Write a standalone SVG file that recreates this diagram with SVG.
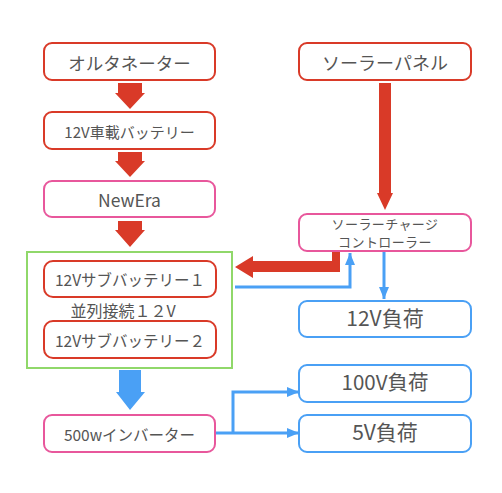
<svg xmlns="http://www.w3.org/2000/svg" width="502" height="493" viewBox="0 0 502 493">
  <defs>
    <style>
      .box { fill: #fff; stroke-width: 2; }
      .red { stroke: #d93a28; }
      .pink { stroke: #e8579c; }
      .blue { stroke: #4aa0f5; }
      .grp { fill: none; stroke: #90d86a; stroke-width: 2; }
      text { font-family: "Noto Sans CJK JP", "Noto Sans", sans-serif; fill: #555; text-anchor: middle; dominant-baseline: central; }
      .bigarrow-r { fill: #d93a28; }
      .bigarrow-b { fill: #4aa0f5; }
      .line-b { fill: none; stroke: #4aa0f5; stroke-width: 3; }
    </style>
    <marker id="ah" viewBox="0 0 12 10" refX="12" refY="5" markerWidth="12" markerHeight="10" markerUnits="userSpaceOnUse" orient="auto">
      <path d="M0,0 L12,5 L0,10 z" fill="#4aa0f5"/>
    </marker>
  </defs>

  <g id="group-parallel">
    <rect class="grp" x="27" y="252" width="205" height="116"/>
    <text x="123" y="310" font-size="16">並列接続１２V</text>
  </g>

  <g id="connectors">
    <polygon class="bigarrow-r" points="118,83 142,83 142,93 145,93 130,109 115,93 118,93"/>
    <polygon class="bigarrow-r" points="118,152 142,152 142,161 145,161 130,177 115,161 118,161"/>
    <polygon class="bigarrow-r" points="118,221 142,221 142,230 145,230 130,247 115,230 118,230"/>
    <polygon class="bigarrow-r" points="379,83 391,83 391,193 393,193 385,210 377,193 379,193"/>
    <polygon class="bigarrow-r" points="332,252 340,252 340,272 253,272 253,278 235,267 253,256 253,261 332,261"/>
    <polyline class="line-b" points="235,287 350,287 350,253" marker-end="url(#ah)"/>
    <line class="line-b" x1="384" y1="252" x2="384" y2="299" marker-end="url(#ah)"/>
    <polygon class="bigarrow-b" points="119,370 141,370 141,392 145,392 130,410 116,392 119,392"/>
    <line class="line-b" x1="215" y1="433" x2="299" y2="433" marker-end="url(#ah)"/>
    <polyline class="line-b" points="233,433 233,392 299,392" marker-end="url(#ah)"/>
  </g>

  <g id="alternator">
    <rect class="box red" x="44" y="43" width="171" height="37" rx="8"/>
    <text x="129.5" y="62" font-size="17.5">オルタネーター</text>
  </g>
  <g id="car-battery">
    <rect class="box red" x="44" y="112" width="171" height="37" rx="8"/>
    <text x="129.5" y="131" font-size="15">12V車載バッテリー</text>
  </g>
  <g id="newera">
    <rect class="box pink" x="44" y="181" width="171" height="36" rx="8"/>
    <text x="129.5" y="199" font-size="17.5">NewEra</text>
  </g>
  <g id="solar-panel">
    <rect class="box red" x="299" y="43" width="172" height="37" rx="8"/>
    <text x="385" y="62" font-size="18">ソーラーパネル</text>
  </g>
  <g id="charge-controller">
    <rect class="box pink" x="299" y="214" width="172" height="37" rx="8"/>
    <text x="385" y="223.5" font-size="13" letter-spacing="0.4">ソーラーチャージ</text>
    <text x="385" y="241.5" font-size="13" letter-spacing="0.4">コントローラー</text>
  </g>
  <g id="sub-battery-1">
    <rect class="box red" x="44" y="261" width="172" height="36" rx="9"/>
    <text x="130" y="279" font-size="15.5">12Vサブバッテリー１</text>
  </g>
  <g id="sub-battery-2">
    <rect class="box red" x="44" y="321" width="172" height="37" rx="9"/>
    <text x="130" y="340" font-size="15.5">12Vサブバッテリー２</text>
  </g>
  <g id="load-12v">
    <rect class="box blue" x="299" y="301" width="172" height="36" rx="8"/>
    <text x="385" y="317" font-size="21">12V負荷</text>
  </g>
  <g id="inverter">
    <rect class="box pink" x="44" y="415" width="171" height="37" rx="8"/>
    <text x="129.5" y="433.5" font-size="15.5">500wインバーター</text>
  </g>
  <g id="load-100v">
    <rect class="box blue" x="299" y="365" width="172" height="37" rx="8"/>
    <text x="385" y="381" font-size="20.5">100V負荷</text>
  </g>
  <g id="load-5v">
    <rect class="box blue" x="299" y="415" width="172" height="37" rx="8"/>
    <text x="385" y="431" font-size="21">5V負荷</text>
  </g>
</svg>
